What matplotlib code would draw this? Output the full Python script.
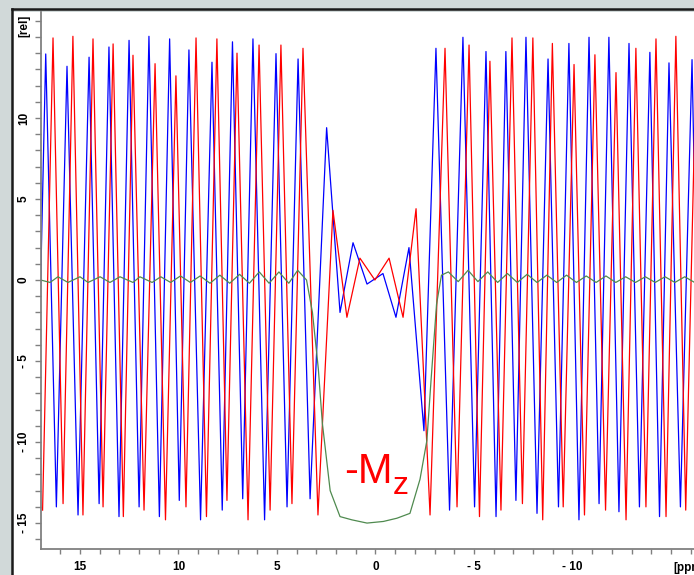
import matplotlib.pyplot as plt
from matplotlib.lines import Line2D
from matplotlib.patches import Rectangle
from matplotlib.ticker import MultipleLocator
import matplotlib.transforms as mtransforms

plt.rcParams['font.family'] = ['Liberation Sans', 'DejaVu Sans']

# ========================
# Data (ppm, rel) - vertices
# ========================
blue_ppm = [17.25, 16.74, 16.2, 15.66, 15.1, 14.54, 14.03, 13.53, 13.02, 12.51, 12.0, 11.50,
            10.97, 10.45, 9.96, 9.47, 8.88, 8.30, 7.78, 7.26, 6.74, 6.22, 5.63, 5.05, 4.49, 3.93,
            3.32, 2.48, 1.80, 1.14, 0.43, -0.38, -1.04, -1.70, -2.46, -3.07, -3.76, -4.44,
            -5.03, -5.61, -6.12, -6.62, -7.13, -7.64, -8.2, -8.76, -9.29, -9.82, -10.33, -10.84,
            -11.35, -11.85, -12.36, -12.87, -13.4, -13.93, -14.42, -14.90, -15.48, -16.07, -16.5]
blue_val = [-14.0, 13.95, -14.0, 13.19, -14.5, 13.75, -13.8, 14.38, -14.6, 14.79, -14.0, 15.04,
            -14.6, 14.88, -13.6, 14.2, -14.8, 13.44, -14.2, 14.7, -13.5, 14.88, -14.8, 13.97, -14.0, 13.64,
            -13.5, 9.4, -2.0, 2.3, -0.25, 0.4, -2.3, 2.0, -9.3, 14.3, -14.2, 14.98,
            -14.0, 14.1, -14.6, 14.1, -13.6, 14.98, -14.4, 13.64, -14.0, 14.6, -14.8, 14.98,
            -13.8, 14.98, -14.3, 14.6, -14.0, 14.05, -14.6, 13.4, -14.0, 13.6, -14.0]

red_ppm = [16.9, 16.37, 15.86, 15.36, 14.85, 14.34, 13.83, 13.32, 12.8, 12.31, 11.75, 11.19,
           10.66, 10.13, 9.62, 9.11, 8.58, 8.05, 7.54, 7.03, 6.47, 5.91, 5.35, 4.80, 4.24, 3.68,
           2.92, 2.16, 1.45, 0.79, 0.03, -0.69, -1.40, -2.06, -2.77, -3.53, -4.14, -4.75,
           -5.28, -5.81, -6.37, -6.93, -7.46, -7.99, -8.49, -8.98, -9.53, -10.08, -10.61, -11.14,
           -11.68, -12.21, -12.72, -13.22, -13.73, -14.24, -14.75, -15.25, -15.75, -16.3]
red_val = [-14.2, 14.94, -13.8, 15.04, -14.5, 14.88, -14.0, 14.57, -14.6, 13.87, -14.2, 13.35,
           -14.8, 12.6, -14.0, 14.94, -14.6, 14.88, -13.6, 14.0, -14.8, 14.5, -14.2, 14.5, -13.8, 14.3,
           -14.5, 4.3, -2.3, 1.35, 0.0, 1.35, -2.3, 4.4, -14.5, 14.3, -14.0, 14.5,
           -14.6, 13.5, -14.2, 14.94, -13.8, 14.94, -14.8, 14.6, -14.0, 13.3, -14.5, 13.9,
           -14.2, 12.8, -14.8, 14.3, -14.0, 14.88, -14.6, 15.04, -14.2, 14.5]

green_ppm = [17.0, 16.52, 16.12, 15.61, 15.0, 14.59, 13.98, 13.48, 12.97, 12.31, 11.96, 11.34,
             10.9, 10.4, 9.9, 9.4, 8.9, 8.4, 7.9, 7.4, 6.9, 6.4, 5.9, 5.4, 4.9, 4.4, 3.95, 3.5,
             3.2, 2.9, 2.7, 2.3, 1.8, 1.2, 0.43, -0.4, -1.09, -1.75, -2.26, -2.61, -2.82, -3.1,
             -3.35, -3.7, -4.2, -4.7, -5.2, -5.7, -6.2, -6.7, -7.2, -7.7, -8.2, -8.7, -9.2, -9.7,
             -10.2, -10.7, -11.2, -11.7, -12.2, -12.7, -13.2, -13.7, -14.2, -14.7, -15.2, -15.7, -16.2]
green_val = [0.0, -0.15, 0.2, -0.15, 0.2, -0.15, 0.2, -0.15, 0.2, -0.15, 0.2, -0.15,
             0.2, -0.15, 0.25, -0.15, 0.25, -0.2, 0.3, -0.2, 0.35, -0.2, 0.5, -0.2, 0.5, -0.2, 0.6, 0.0,
             -2.0, -5.5, -8.8, -13.0, -14.6, -14.8, -15.0, -14.9, -14.7, -14.4, -12.3, -9.9, -6.2, -1.5,
             0.3, 0.5, -0.1, 0.6, -0.1, 0.5, -0.15, 0.4, -0.15, 0.35, -0.15, 0.3, -0.15, 0.3,
             -0.15, 0.25, -0.15, 0.25, -0.15, 0.2, -0.15, 0.2, -0.15, 0.2, -0.15, 0.2, -0.15]

x_major = [15, 10, 5, 0, -5, -10, -15]
x_labels = ['15', '10', '5', '0', '- 5', '- 10', '']
y_major = [-15, -10, -5, 0, 5, 10, 15]
y_labels = ['- 15', '- 10', '- 5', '0', '5', '10', '']

AXIS_GRAY = '#808080'

fig = plt.figure(figsize=(6.94, 5.75), dpi=100)
fig.patch.set_facecolor('#d1d9d9')

# white panel with dark frame on the left and top
fig.patches.append(Rectangle((13 / 694, 0), 1, 1 - 12 / 575, transform=fig.transFigure,
                             facecolor='white', edgecolor='none', zorder=-2))
fig.lines.append(Line2D([11.5 / 694, 11.5 / 694], [0, 1 - 9 / 575], transform=fig.transFigure,
                        color='#1a1a1a', lw=1.8, zorder=-1))
fig.lines.append(Line2D([11.5 / 694, 1], [1 - 9 / 575, 1 - 9 / 575], transform=fig.transFigure,
                        color='#1a1a1a', lw=1.8, zorder=-1))

ax = fig.add_axes([41 / 694, 26 / 575, 653 / 694, 537 / 575])
ax.set_zorder(2)
ax.set_facecolor('none')

ax.plot(blue_ppm, blue_val, color='#0000ff', lw=0.9)
ax.plot(red_ppm, red_val, color='#ff0000', lw=0.9)
ax.plot(green_ppm, green_val, color='#4f8a4f', lw=0.9)

ax.set_xlim(16.98, -16.17)
ax.set_ylim(-16.6, 16.54)

for side in ['top', 'right']:
    ax.spines[side].set_visible(False)
for side in ['left', 'bottom']:
    ax.spines[side].set_color(AXIS_GRAY)
    ax.spines[side].set_linewidth(1.3)

ax.set_xticks(x_major)
ax.set_xticklabels(x_labels)
ax.set_yticks(y_major)
ax.set_yticklabels(y_labels, rotation=90, va='center')
ax.xaxis.set_minor_locator(MultipleLocator(1))
ax.yaxis.set_minor_locator(MultipleLocator(1))
ax.tick_params(which='both', color=AXIS_GRAY, width=1.0, labelsize=8.5)
ax.tick_params(axis='x', which='both', length=3.5, pad=5)
ax.tick_params(axis='y', which='both', length=4, pad=4)
for lab in ax.get_xticklabels() + ax.get_yticklabels():
    lab.set_fontweight('bold')

# unit labels in place of the last tick labels
trans_y = mtransforms.blended_transform_factory(fig.transFigure, ax.transData)
ax.text(24 / 694, 15, '[rel]', transform=trans_y, rotation=90, ha='center', va='bottom',
        fontsize=8.5, fontweight='bold')
trans_x = mtransforms.blended_transform_factory(ax.transData, fig.transFigure)
ax.text(-15.1, 1 - 562 / 575, '[ppm]', transform=trans_x, ha='left', va='top',
        fontsize=8.5, fontweight='bold', clip_on=False)

# -Mz label
ax.text(1.6, -12.5, '-M', color='#ff0000', fontsize=30, ha='left', va='baseline')
ax.text(-0.9, -13.2, 'z', color='#ff0000', fontsize=23, ha='left', va='baseline')

fig.savefig('out.png', dpi=100)
